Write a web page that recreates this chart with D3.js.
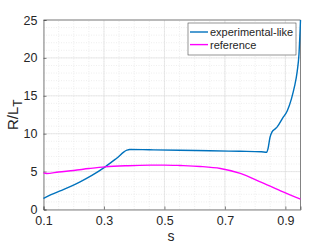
<!DOCTYPE html>
<html>
<head>
<meta charset="utf-8">
<script src="https://cdn.jsdelivr.net/npm/d3@7"></script>
<style>
body { margin: 0; background: #fff; }
text { font-family: "Liberation Sans", Arial, sans-serif; fill: #262626; }
</style>
</head>
<body>
<div id="chart"></div>
<script>
// data
var expS = [0.1, 0.125, 0.155, 0.19, 0.221, 0.26, 0.304, 0.34, 0.376, 0.385, 0.45, 0.55, 0.65, 0.75, 0.82, 0.838, 0.843, 0.849, 0.856, 0.865, 0.873, 0.89, 0.906, 0.92, 0.93, 0.939, 0.945, 0.95];
var expV = [1.45, 1.95, 2.46, 3.05, 3.65, 4.5, 5.63, 6.7, 7.83, 7.92, 7.88, 7.82, 7.75, 7.68, 7.62, 7.55, 8.1, 9.5, 10.25, 10.6, 10.9, 12.0, 13.0, 14.6, 16.2, 18.2, 20.5, 25];
var refS = [0.1, 0.11, 0.15, 0.2, 0.25, 0.304, 0.38, 0.453, 0.5, 0.553, 0.618, 0.685, 0.751, 0.817, 0.884, 0.95];
var refV = [4.84, 4.75, 4.95, 5.15, 5.4, 5.63, 5.78, 5.85, 5.86, 5.8, 5.68, 5.41, 4.76, 3.65, 2.46, 1.36];
var xTicks = [0.1, 0.3, 0.5, 0.7, 0.9];
var yTicks = [0, 5, 10, 15, 20, 25];
var seriesNames = ["experimental-like", "reference"];
var seriesColors = ["#0072BD", "#FF00FF"];

var width = 332, height = 245;
var margin = {left: 43.5, right: 31.5, top: 20, bottom: 35.5};

var svg = d3.select("#chart").append("svg")
  .attr("width", width)
  .attr("height", height);

var x = d3.scaleLinear().domain([0.1, 0.95]).range([margin.left, width - margin.right]);
var y = d3.scaleLinear().domain([0, 25]).range([height - margin.bottom, margin.top]);

// minor grid
var g = svg.append("g");
g.selectAll(".mx").data(d3.range(0.15, 0.95, 0.05)).enter().append("line")
  .attr("x1", d => x(d)).attr("x2", d => x(d))
  .attr("y1", y(0)).attr("y2", y(25))
  .style("stroke", "#e2e2e2").style("stroke-width", 0.6).style("stroke-dasharray", "1,1.5");
g.selectAll(".my").data(d3.range(1, 25, 1)).enter().append("line")
  .attr("x1", x(0.1)).attr("x2", x(0.95))
  .attr("y1", d => y(d)).attr("y2", d => y(d))
  .style("stroke", "#e2e2e2").style("stroke-width", 0.6).style("stroke-dasharray", "1,1.5");

// major grid
g.selectAll(".gx").data(xTicks).enter().append("line")
  .attr("x1", d => x(d)).attr("x2", d => x(d))
  .attr("y1", y(0)).attr("y2", y(25))
  .style("stroke", "#dcdcdc").style("stroke-width", 0.6);
g.selectAll(".gy").data(yTicks).enter().append("line")
  .attr("x1", x(0.1)).attr("x2", x(0.95))
  .attr("y1", d => y(d)).attr("y2", d => y(d))
  .style("stroke", "#dcdcdc").style("stroke-width", 0.6);

// axes
var xAxis = svg.append("g").attr("transform", "translate(0," + y(0) + ")")
  .call(d3.axisBottom(x).tickValues(xTicks).tickSize(-3).tickPadding(7).tickFormat(d3.format(".1f")));
var yAxis = svg.append("g").attr("transform", "translate(" + x(0.1) + ",0)")
  .call(d3.axisLeft(y).tickValues(yTicks).tickSize(-3).tickPadding(6));
[xAxis, yAxis].forEach(function (a) {
  a.select(".domain").style("stroke", "#4d4d4d").style("stroke-width", 0.7);
  a.selectAll(".tick line").style("stroke", "#4d4d4d").style("stroke-width", 0.7);
  a.selectAll(".tick text").style("font-size", "12.5px").style("fill", "#262626")
    .style("font-family", '"Liberation Sans", Arial, sans-serif');
});
// box
svg.append("line").attr("x1", x(0.1)).attr("x2", x(0.95)).attr("y1", y(25)).attr("y2", y(25))
  .style("stroke", "#4d4d4d").style("stroke-width", 0.7);
svg.append("line").attr("x1", x(0.95)).attr("x2", x(0.95)).attr("y1", y(0)).attr("y2", y(25))
  .style("stroke", "#4d4d4d").style("stroke-width", 0.7);

// lines
var line = d3.line().curve(d3.curveMonotoneX);
var plot = svg.append("g");
plot.append("path")
  .attr("d", line(expS.map((s, i) => [x(s), y(expV[i])])))
  .style("fill", "none").style("stroke", seriesColors[0]).style("stroke-width", 1.4);
plot.append("path")
  .attr("d", line(refS.map((s, i) => [x(s), y(refV[i])])))
  .style("fill", "none").style("stroke", seriesColors[1]).style("stroke-width", 1.4);

// labels
svg.append("text").attr("x", 171).attr("y", 241)
  .attr("text-anchor", "middle").style("font-size", "14px").text("s");
var yl = svg.append("text").attr("transform", "translate(18," + y(12.5) + ") rotate(-90)")
  .attr("text-anchor", "middle").style("font-size", "15px");
yl.append("tspan").text("R/L");
yl.append("tspan").attr("dy", 4).style("font-size", "12px").text("T");

// legend
var lg = svg.append("g").attr("transform", "translate(188,23)");
lg.append("rect").attr("width", 108).attr("height", 32)
  .style("fill", "#fff").style("stroke", "#4d4d4d").style("stroke-width", 0.6);
seriesNames.forEach(function (n, i) {
  var yy = 9 + i * 12.6;
  lg.append("line").attr("x1", 2).attr("x2", 20).attr("y1", yy).attr("y2", yy)
    .style("stroke", seriesColors[i]).style("stroke-width", 1.4);
  lg.append("text").attr("x", 22).attr("y", yy + 4).style("font-size", "11px").text(n);
});
</script>
</body>
</html>
